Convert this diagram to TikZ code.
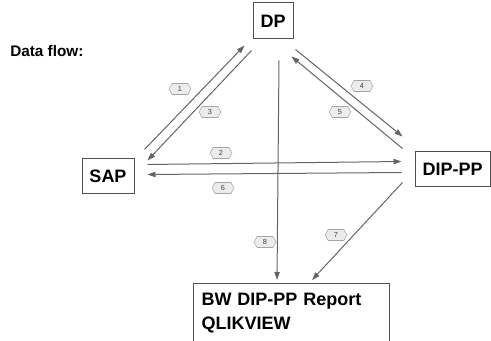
\documentclass[tikz,border=0pt]{standalone}
\usepackage{fontspec}
\setmainfont{Liberation Sans}
\usetikzlibrary{arrows.meta,shapes.symbols}
\definecolor{linegrey}{RGB}{100,100,100}
\definecolor{boxgrey}{RGB}{80,80,80}
\definecolor{tagfill}{RGB}{236,236,236}
\definecolor{tagdraw}{RGB}{165,165,165}
\tikzset{
  box/.style={draw=boxgrey, line width=0.75, font=\fontsize{13.5}{18}\selectfont\bfseries, inner sep=0pt},
  flow/.style={draw=linegrey, line width=0.75, -{Triangle[length=6pt,width=4pt]}},
  tag/.style={signal, signal to=west and east, signal pointer angle=120, draw=tagdraw, fill=tagfill,
    text=black!75, font=\fontsize{5.5}{6}\selectfont, minimum width=16.5pt, minimum height=8.25pt, inner sep=0pt},
}
\begin{document}
\begin{tikzpicture}[x=0.75pt,y=0.75pt,yscale=-1,xscale=1]
\useasboundingbox (0,0) rectangle (491,341);

% Boxes
\node (dp) [box, minimum width=30pt, minimum height=27pt] at (273,21) {DP};
\node (sap) [box, minimum width=39pt, minimum height=26.25pt] at (108,176.5) {SAP};
\node (dip) [box, minimum width=56.25pt, minimum height=26.25pt] at (452.5,169.5) {DIP-PP};
\node (report) [box, anchor=north west, align=left, text width=135pt, inner xsep=6pt, inner ysep=7.5pt] at (193,283) {BW DIP-PP Report\\QLIKVIEW};

% Text Node
\node (title) [font=\fontsize{11.5}{14}\selectfont\bfseries, anchor=west, inner sep=0pt] at (10,51) {Data flow:};

%Straight Lines
\draw [flow] ([shift={(10,-9)}]sap.north east) -- ([shift={(-8,6)}]dp.south west);
\draw [flow] ([shift={(-1,11)}]dp.south west) -- ([shift={(13,2)}]sap.north east);
\draw [flow] ([shift={(2,10)}]dp.south east) -- ([shift={(-12,-15)}]dip.north west);
\draw [flow] ([shift={(-12,-3)}]dip.north west) -- ([shift={(-2,17)}]dp.south east);
\draw [flow] ([shift={(13,6)}]sap.north east) -- ([shift={(-13,10)}]dip.north west);
\draw [flow] ([shift={(-13,21)}]dip.north west) -- ([shift={(13,16)}]sap.north east);
\draw [flow] ([shift={(6,21)}]dp.south) -- ([shift={(84,-3)}]report.north west);
\draw [flow] ([shift={(-12,-5)}]dip.south west) -- ([shift={(119,-3)}]report.north west);

% Step tags
\node (t1) [tag] at (180,89) {1};
\node (t2) [tag] at (221,153) {2};
\node (t3) [tag] at (210,112) {3};
\node (t4) [tag] at (362,86) {4};
\node (t5) [tag] at (340,112) {5};
\node (t6) [tag] at (223,188) {6};
\node (t7) [tag] at (336,235) {7};
\node (t8) [tag] at (265,242) {8};

\end{tikzpicture}
\end{document}
